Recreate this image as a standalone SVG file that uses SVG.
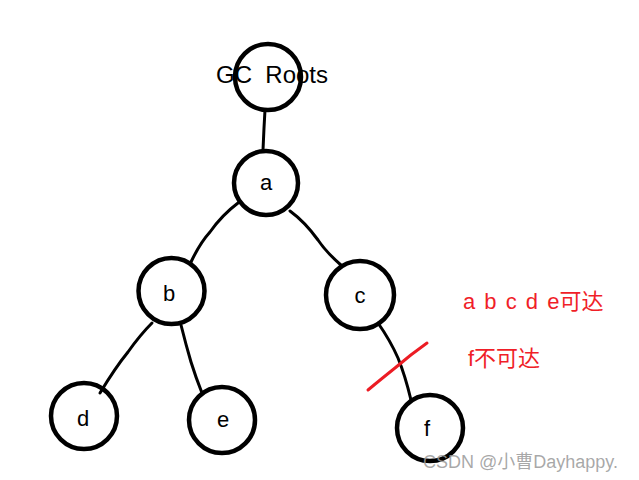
<svg xmlns="http://www.w3.org/2000/svg" width="639" height="480" viewBox="0 0 639 480">
<style>
.n{fill:none;stroke:#000;stroke-width:4.5}
.e{fill:none;stroke:#000;stroke-width:3;stroke-linecap:round;stroke-linejoin:round}
.t{font-family:"Liberation Sans","Noto Sans CJK SC",sans-serif;font-size:22px;fill:#000;text-anchor:middle}
.r{font-family:"Liberation Sans","Noto Sans CJK SC",sans-serif;font-size:22px;fill:#f01e28}
</style>
<rect width="639" height="480" fill="#fff"/>
<g id="connectors">
<path class="e" d="M265,110 L264,128 L263,150"/>
<path class="e" d="M238,203 Q222,215 210,232 Q200,243 191,262"/>
<path class="e" d="M290,211 Q305,222 318,240 Q326,252 342,266"/>
<path class="e" d="M152,323 Q140,335 128,352 Q115,368 100,393"/>
<path class="e" d="M181,325 Q186,345 191,362 Q196,378 202,393"/>
<path class="e" d="M378,323 Q390,340 398,358 Q405,375 411,400"/>
<path d="M368,390 Q380,380 395,368 Q410,355 427,343" fill="none" stroke="#ec1c24" stroke-width="3" stroke-linecap="round"/>
</g>
<g id="roots">
<circle class="n" cx="268" cy="77" r="33"/>
<text class="t" x="272" y="83" style="font-size:24px">GC&#160; Roots</text>
</g>
<g id="a"><circle class="n" cx="266" cy="183" r="32"/><text class="t" x="266" y="190">a</text></g>
<g id="b"><circle class="n" cx="171.5" cy="291" r="33"/><text class="t" x="169" y="301">b</text></g>
<g id="c"><circle class="n" cx="360" cy="295" r="34"/><text class="t" x="360" y="303">c</text></g>
<g id="d"><circle class="n" cx="84" cy="416" r="33"/><text class="t" x="83" y="426">d</text></g>
<g id="e"><circle class="n" cx="222" cy="420" r="33"/><text class="t" x="223" y="427">e</text></g>
<g id="f"><circle class="n" cx="430" cy="428" r="33"/><text class="t" x="427" y="436">f</text></g>
<text class="r" x="463" y="309" word-spacing="3">a b c d e可达</text>
<text class="r" x="468" y="366">f不可达</text>
<text x="423" y="468" font-family="Liberation Sans,Noto Sans CJK SC,sans-serif" font-size="18" fill="#999" fill-opacity="0.85">CSDN @小曹Dayhappy.</text>
</svg>
